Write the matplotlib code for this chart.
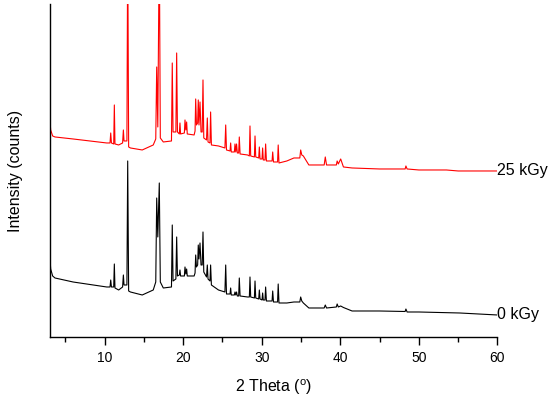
import numpy as np
import matplotlib
matplotlib.use("Agg")
import matplotlib.pyplot as plt

plt.rcParams['font.family'] = ['Liberation Sans', 'DejaVu Sans']

# trace vertices: 2 theta (deg), intensity (arb. counts)
theta_0kgy = [3.0, 3.15, 3.4, 3.7, 6.0, 10.28, 10.7, 10.79, 10.88, 11.17, 11.25, 11.33,
              11.8, 12.3, 12.4, 12.48, 12.85, 12.95, 13.07, 13.3, 14.8, 16.2, 16.52, 16.64,
              16.78, 16.97, 17.1, 17.48, 18.52, 18.62, 18.72, 19.08, 19.18, 19.28, 19.52,
              19.6, 19.68, 20.16, 20.24, 20.35, 20.45, 20.53, 21.4, 21.52, 21.6, 21.7,
              21.85, 21.93, 22.02, 22.15, 22.28, 22.43, 22.53, 22.63, 22.98, 23.08, 23.17,
              23.42, 23.5, 23.6, 24.5, 25.32, 25.42, 25.52, 25.97, 26.05, 26.13, 26.52,
              26.6, 26.7, 26.8, 26.9, 27.07, 27.15, 27.25, 28.2, 28.43, 28.51, 28.6, 29.07,
              29.15, 29.24, 29.62, 29.7, 29.79, 30.04, 30.12, 30.2, 30.42, 30.5, 30.6,
              31.32, 31.4, 31.5, 32.02, 32.1, 32.2, 33.2, 34.1, 34.85, 34.96, 35.1, 35.3,
              36.0, 37.95, 38.09, 38.25, 39.5, 39.6, 39.75, 40.05, 40.4, 41.5, 45.0,
              48.25, 48.35, 48.5, 50.0, 55.2, 60.0]
counts_0kgy = [85, 68, 61, 59, 55, 50, 50, 57, 50, 50, 73, 49,
               47, 50, 62, 52, 52, 176, 46, 45, 42, 47, 55, 139,
               100, 154, 55, 49, 50, 112, 56, 58, 100, 61, 62,
               67, 61, 61, 70, 63, 68, 61, 61, 64, 82, 70,
               72, 92, 78, 94, 72, 72, 105, 65, 60, 72, 58,
               56, 72, 52, 47, 45, 72, 43, 43, 49, 42, 42,
               45, 42, 45, 41, 41, 59, 41, 40, 40, 60, 40, 39,
               56, 39, 38, 47, 38, 37, 44, 37, 37, 50, 36,
               36, 46, 35, 35, 53, 34, 34, 35, 35, 40, 36, 34,
               29, 29, 32, 29, 30, 33, 30, 31, 29.5, 26, 26,
               25.5, 28, 25, 25, 24, 22]

theta_25kgy = [3.0, 3.15, 3.4, 3.7, 6.0, 10.28, 10.7, 10.79, 10.88, 11.17, 11.25, 11.33,
               11.8, 12.3, 12.4, 12.48, 12.85, 12.95, 13.07, 13.3, 14.8, 16.2, 16.52, 16.64,
               16.78, 16.97, 17.1, 17.48, 18.52, 18.62, 18.72, 19.08, 19.18, 19.28, 19.52,
               19.6, 19.68, 20.16, 20.24, 20.35, 20.45, 20.53, 21.4, 21.52, 21.6, 21.7,
               21.85, 21.93, 22.02, 22.15, 22.28, 22.43, 22.53, 22.63, 22.98, 23.08, 23.17,
               23.42, 23.5, 23.6, 24.5, 25.32, 25.42, 25.52, 25.97, 26.05, 26.13, 26.52,
               26.6, 26.7, 26.8, 26.9, 27.07, 27.15, 27.25, 28.2, 28.43, 28.51, 28.6, 29.07,
               29.15, 29.24, 29.62, 29.7, 29.79, 30.04, 30.12, 30.2, 30.42, 30.5, 30.6,
               31.32, 31.4, 31.5, 32.02, 32.1, 32.2, 33.2, 34.1, 34.85, 34.96, 35.1, 35.3,
               36.0, 37.95, 38.09, 38.25, 39.5, 39.6, 39.75, 40.05, 40.4, 41.5, 45.0,
               48.25, 48.35, 48.5, 50.0, 53.5, 55.0, 60.0]
counts_25kgy = [222, 207, 201, 200, 198, 194, 194, 204, 194, 193, 232, 193,
                192, 194, 207, 196, 196, 400, 190, 189, 187, 192, 198, 270,
                210, 400, 199, 195, 196, 274, 205, 205, 284, 205, 203,
                214, 203, 204, 217, 207, 215, 203, 202, 206, 238, 212,
                214, 237, 212, 235, 205, 205, 257, 199, 197, 219, 195,
                194, 225, 192, 191, 189, 212, 187, 186, 194, 185, 185,
                193, 185, 193, 184, 184, 200, 183, 182, 181, 211, 181, 180,
                201, 180, 179, 190, 178, 178, 189, 177, 177, 193, 176,
                176, 185, 175, 175, 192, 174, 176, 179, 179, 187, 182, 181,
                172, 172, 180, 172, 172, 176, 173, 178, 170, 169, 168,
                168, 171, 168, 167, 167, 166, 166]

fig = plt.figure(figsize=(5.5, 3.96), dpi=100)
ax = fig.add_axes([0.09, 0.149, 0.8145, 0.841])

ax.plot(theta_0kgy, counts_0kgy, color='black', lw=0.8)
ax.plot(theta_25kgy, counts_25kgy, color='#ff0000', lw=0.8)

ax.text(60, counts_25kgy[-1], '25 kGy', ha='left', va='center', fontsize=11.5)
ax.text(60, counts_0kgy[-1], '0 kGy', ha='left', va='center', fontsize=11.5)

ax.set_xlim(3, 60)
ax.set_ylim(0, 333)
ax.set_xticks([10, 20, 30, 40, 50, 60])
ax.set_xticks([5, 15, 25, 35, 45, 55], minor=True)
ax.set_yticks([])
ax.tick_params(axis='x', which='major', length=6, width=1, labelsize=10, pad=4)
ax.tick_params(axis='x', which='minor', length=3.5, width=1)

for side in ['top', 'right']:
    ax.spines[side].set_visible(False)
for side in ['left', 'bottom']:
    ax.spines[side].set_linewidth(1.0)

ax.set_xlabel(r'2 Theta ($^\mathregular{o}$)', fontsize=11.5, labelpad=9)
ax.set_ylabel('Intensity (counts)', fontsize=11.5, labelpad=19)

fig.savefig('out.png', dpi=100)
